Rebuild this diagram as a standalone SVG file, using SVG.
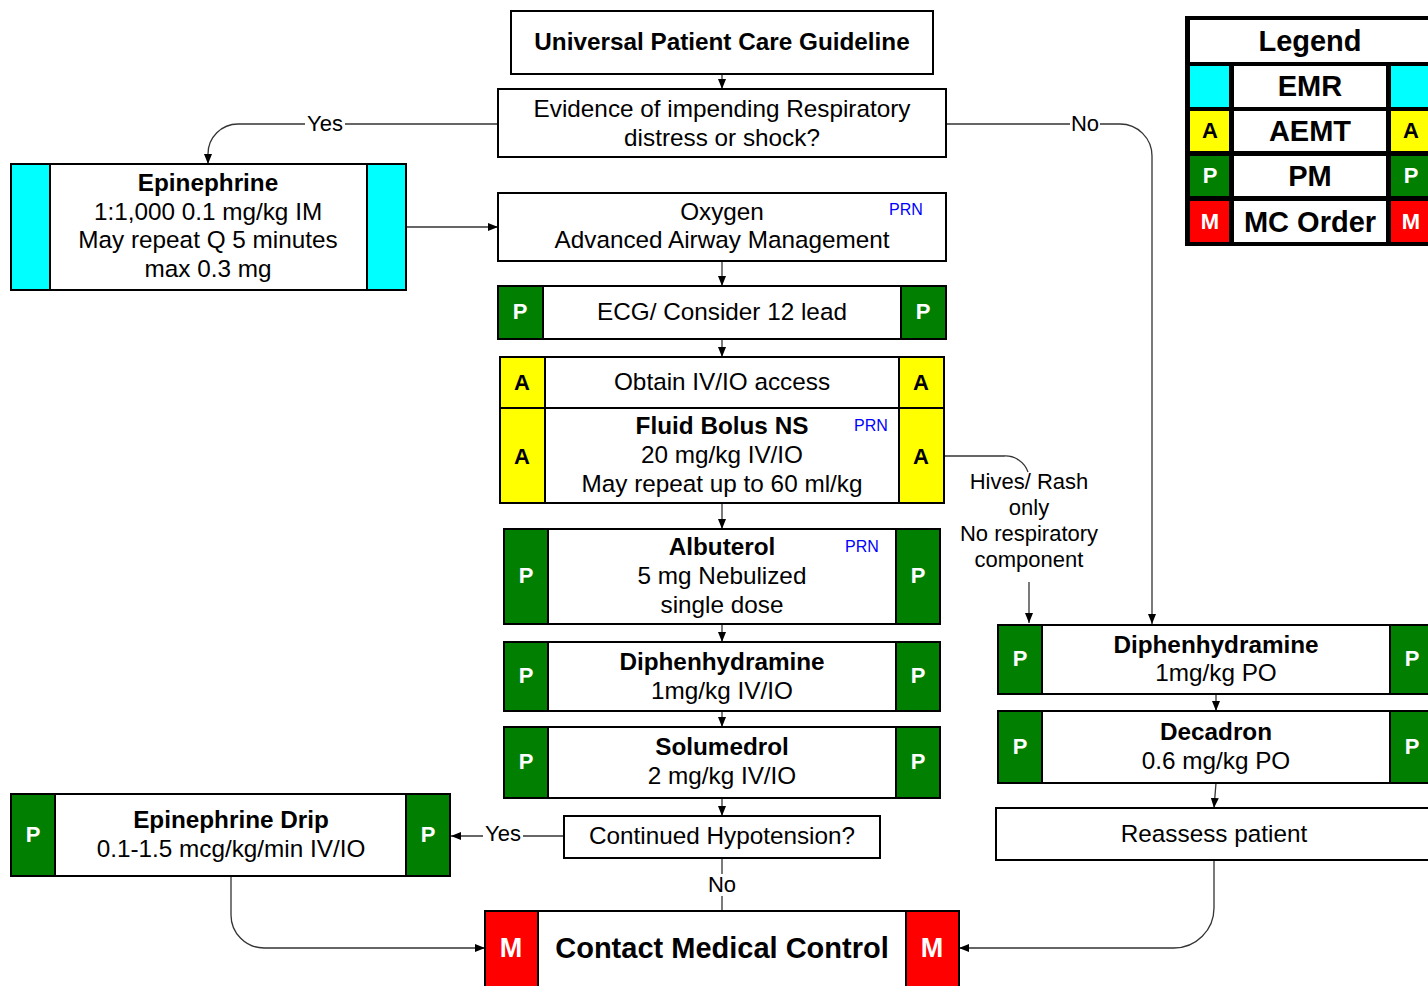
<svg xmlns="http://www.w3.org/2000/svg" width="1428" height="986" viewBox="0 0 1428 986">
<defs>
  <marker id="arr" markerWidth="10" markerHeight="10" refX="10" refY="5" orient="auto" markerUnits="userSpaceOnUse">
    <path d="M0,1 L10,5 L0,9 z" fill="#000"/>
  </marker>
  <style>
    text{font-family:"Liberation Sans",Arial,Helvetica,sans-serif;font-size:24.3px;fill:#000;text-anchor:middle}
    .b{font-weight:bold}
    .box{fill:#fff;stroke:#000;stroke-width:2}
    .cy{fill:#00ffff;stroke:#000;stroke-width:2}
    .ye{fill:#ffff00;stroke:#000;stroke-width:2}
    .gr{fill:#007f00;stroke:#000;stroke-width:2}
    .rd{fill:#ff0000;stroke:#000;stroke-width:2}
    .tag{font-weight:bold;font-size:22px}
    .tw{fill:#fff}
    .mt{font-weight:bold;font-size:27px;fill:#fff}
    .prn{font-size:16px;fill:#0000ff}
    .lbl{font-size:22px}
    .con{fill:none;stroke:#333;stroke-width:1.3}
    .bg{fill:#fff}
    .leg{font-weight:bold;font-size:29px}
  </style>
</defs>
<rect width="1428" height="986" fill="#fff"/>

<!-- connectors -->
<g id="connectors">
  <path class="con" d="M722,74 V89" marker-end="url(#arr)"/>
  <path class="con" d="M498,124 H238 A30,30 0 0 0 208,154 V164" marker-end="url(#arr)"/>
  <path class="con" d="M946,124 H1120 A32,32 0 0 1 1152,156 V624" marker-end="url(#arr)"/>
  <path class="con" d="M406,227 H498" marker-end="url(#arr)"/>
  <path class="con" d="M722,261 V286" marker-end="url(#arr)"/>
  <path class="con" d="M722,339 V357" marker-end="url(#arr)"/>
  <path class="con" d="M722,503 V529" marker-end="url(#arr)"/>
  <path class="con" d="M722,624 V642" marker-end="url(#arr)"/>
  <path class="con" d="M722,711 V727" marker-end="url(#arr)"/>
  <path class="con" d="M722,798 V816" marker-end="url(#arr)"/>
  <path class="con" d="M944,456 H1004 A24,24 0 0 1 1028,472"/>
  <path class="con" d="M1029,582 V623" marker-end="url(#arr)"/>
  <path class="con" d="M564,836 H451" marker-end="url(#arr)"/>
  <path class="con" d="M722,858 V911"/>
  <path class="con" d="M231,876 V915 A33,33 0 0 0 264,948 H485" marker-end="url(#arr)"/>
  <path class="con" d="M1214,860 V908 A40,40 0 0 1 1174,948 H959" marker-end="url(#arr)"/>
  <path class="con" d="M1216,694 V711" marker-end="url(#arr)"/>
  <path class="con" d="M1216,783 L1214,808" marker-end="url(#arr)"/>

  <rect class="bg" x="305" y="113" width="40" height="22"/>
  <text class="lbl" x="325" y="131">Yes</text>
  <rect class="bg" x="1070" y="113" width="30" height="22"/>
  <text class="lbl" x="1085" y="131">No</text>
  <rect class="bg" x="483" y="823" width="40" height="22"/>
  <text class="lbl" x="503" y="841">Yes</text>
  <rect class="bg" x="707" y="874" width="30" height="22"/>
  <text class="lbl" x="722" y="892">No</text>
  <text class="lbl" x="1029" y="489">Hives/ Rash</text>
  <text class="lbl" x="1029" y="515">only</text>
  <text class="lbl" x="1029" y="541">No respiratory</text>
  <text class="lbl" x="1029" y="567">component</text>
</g>

<!-- nodes -->
<g id="universal">
  <rect class="box" x="511" y="11" width="422" height="63"/>
  <text class="b" x="722" y="50">Universal Patient Care Guideline</text>
</g>

<g id="evidence">
  <rect class="box" x="498" y="89" width="448" height="68"/>
  <text x="722" y="117">Evidence of impending Respiratory</text>
  <text x="722" y="146">distress or shock?</text>
</g>

<g id="epinephrine">
  <rect class="box" x="11" y="164" width="395" height="126"/>
  <rect class="cy" x="11" y="164" width="39" height="126"/>
  <rect class="cy" x="367" y="164" width="39" height="126"/>
  <text class="b" x="208" y="191">Epinephrine</text>
  <text x="208" y="220">1:1,000 0.1 mg/kg IM</text>
  <text x="208" y="248">May repeat Q 5 minutes</text>
  <text x="208" y="277">max 0.3 mg</text>
</g>

<g id="oxygen">
  <rect class="box" x="498" y="193" width="448" height="68"/>
  <text x="722" y="220">Oxygen</text>
  <text x="722" y="248">Advanced Airway Management</text>
  <text class="prn" x="906" y="215">PRN</text>
</g>

<g id="ecg">
  <rect class="box" x="498" y="286" width="448" height="53"/>
  <rect class="gr" x="498" y="286" width="45" height="53"/>
  <rect class="gr" x="901" y="286" width="45" height="53"/>
  <text class="tag tw" x="520" y="319">P</text>
  <text class="tag tw" x="923" y="319">P</text>
  <text x="722" y="320">ECG/ Consider 12 lead</text>
</g>

<g id="iv-access">
  <rect class="box" x="500" y="357" width="444" height="51"/>
  <rect class="ye" x="500" y="357" width="45" height="51"/>
  <rect class="ye" x="899" y="357" width="45" height="51"/>
  <text class="tag" x="522" y="390">A</text>
  <text class="tag" x="921" y="390">A</text>
  <text x="722" y="390">Obtain IV/IO access</text>
</g>

<g id="fluid-bolus">
  <rect class="box" x="500" y="408" width="444" height="95"/>
  <rect class="ye" x="500" y="408" width="45" height="95"/>
  <rect class="ye" x="899" y="408" width="45" height="95"/>
  <text class="tag" x="522" y="464">A</text>
  <text class="tag" x="921" y="464">A</text>
  <text class="b" x="722" y="434">Fluid Bolus NS</text>
  <text x="722" y="463">20 mg/kg IV/IO</text>
  <text x="722" y="492">May repeat up to 60 ml/kg</text>
  <text class="prn" x="871" y="431">PRN</text>
</g>

<g id="albuterol">
  <rect class="box" x="504" y="529" width="436" height="95"/>
  <rect class="gr" x="504" y="529" width="44" height="95"/>
  <rect class="gr" x="896" y="529" width="44" height="95"/>
  <text class="tag tw" x="526" y="583">P</text>
  <text class="tag tw" x="918" y="583">P</text>
  <text class="b" x="722" y="555">Albuterol</text>
  <text x="722" y="584">5 mg Nebulized</text>
  <text x="722" y="613">single dose</text>
  <text class="prn" x="862" y="552">PRN</text>
</g>

<g id="diphenhydramine-iv">
  <rect class="box" x="504" y="642" width="436" height="69"/>
  <rect class="gr" x="504" y="642" width="44" height="69"/>
  <rect class="gr" x="896" y="642" width="44" height="69"/>
  <text class="tag tw" x="526" y="683">P</text>
  <text class="tag tw" x="918" y="683">P</text>
  <text class="b" x="722" y="670">Diphenhydramine</text>
  <text x="722" y="699">1mg/kg IV/IO</text>
</g>

<g id="solumedrol">
  <rect class="box" x="504" y="727" width="436" height="71"/>
  <rect class="gr" x="504" y="727" width="44" height="71"/>
  <rect class="gr" x="896" y="727" width="44" height="71"/>
  <text class="tag tw" x="526" y="769">P</text>
  <text class="tag tw" x="918" y="769">P</text>
  <text class="b" x="722" y="755">Solumedrol</text>
  <text x="722" y="784">2 mg/kg IV/IO</text>
</g>

<g id="hypotension">
  <rect class="box" x="564" y="816" width="316" height="42"/>
  <text x="722" y="844">Continued Hypotension?</text>
</g>

<g id="epinephrine-drip">
  <rect class="box" x="11" y="794" width="439" height="82"/>
  <rect class="gr" x="11" y="794" width="44" height="82"/>
  <rect class="gr" x="406" y="794" width="44" height="82"/>
  <text class="tag tw" x="33" y="842">P</text>
  <text class="tag tw" x="428" y="842">P</text>
  <text class="b" x="231" y="828">Epinephrine Drip</text>
  <text x="231" y="857">0.1-1.5 mcg/kg/min IV/IO</text>
</g>

<g id="medical-control">
  <rect class="box" x="485" y="911" width="474" height="90"/>
  <rect class="rd" x="485" y="911" width="53" height="90"/>
  <rect class="rd" x="906" y="911" width="53" height="90"/>
  <text class="mt" x="511" y="957">M</text>
  <text class="mt" x="932" y="957">M</text>
  <text class="b" x="722" y="958" style="font-size:29px">Contact Medical Control</text>
</g>

<g id="diphenhydramine-po">
  <rect class="box" x="998" y="625" width="436" height="69"/>
  <rect class="gr" x="998" y="625" width="44" height="69"/>
  <rect class="gr" x="1390" y="625" width="44" height="69"/>
  <text class="tag tw" x="1020" y="666">P</text>
  <text class="tag tw" x="1412" y="666">P</text>
  <text class="b" x="1216" y="653">Diphenhydramine</text>
  <text x="1216" y="681">1mg/kg PO</text>
</g>

<g id="decadron">
  <rect class="box" x="998" y="711" width="436" height="72"/>
  <rect class="gr" x="998" y="711" width="44" height="72"/>
  <rect class="gr" x="1390" y="711" width="44" height="72"/>
  <text class="tag tw" x="1020" y="754">P</text>
  <text class="tag tw" x="1412" y="754">P</text>
  <text class="b" x="1216" y="740">Decadron</text>
  <text x="1216" y="769">0.6 mg/kg PO</text>
</g>

<g id="reassess">
  <rect class="box" x="996" y="808" width="438" height="52"/>
  <text x="1214" y="842">Reassess patient</text>
</g>

<!-- legend table -->
<g id="legend">
  <rect x="1185" y="16" width="252" height="230" fill="#000"/>
  <rect x="1190" y="20" width="250" height="42" fill="#fff"/>
  <text class="leg" x="1310" y="51">Legend</text>

  <rect x="1190" y="66" width="39" height="41" fill="#00ffff"/>
  <rect x="1234" y="66" width="152" height="41" fill="#fff"/>
  <rect x="1391" y="66" width="39" height="41" fill="#00ffff"/>
  <text class="leg" x="1310" y="96">EMR</text>

  <rect x="1190" y="111" width="39" height="40" fill="#ffff00"/>
  <rect x="1234" y="111" width="152" height="40" fill="#fff"/>
  <rect x="1391" y="111" width="39" height="40" fill="#ffff00"/>
  <text class="tag" x="1210" y="138">A</text>
  <text class="tag" x="1411" y="138">A</text>
  <text class="leg" x="1310" y="141">AEMT</text>

  <rect x="1190" y="156" width="39" height="40" fill="#007f00"/>
  <rect x="1234" y="156" width="152" height="40" fill="#fff"/>
  <rect x="1391" y="156" width="39" height="40" fill="#007f00"/>
  <text class="tag tw" x="1210" y="183">P</text>
  <text class="tag tw" x="1411" y="183">P</text>
  <text class="leg" x="1310" y="186">PM</text>

  <rect x="1190" y="201" width="39" height="41" fill="#ff0000"/>
  <rect x="1234" y="201" width="152" height="41" fill="#fff"/>
  <rect x="1391" y="201" width="39" height="41" fill="#ff0000"/>
  <text class="tag tw" x="1210" y="229">M</text>
  <text class="tag tw" x="1411" y="229">M</text>
  <text class="leg" x="1310" y="232">MC Order</text>
</g>
</svg>
